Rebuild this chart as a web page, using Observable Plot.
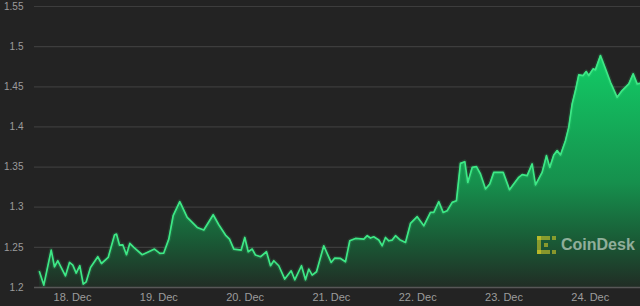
<!DOCTYPE html>
<html>
<head>
<meta charset="utf-8">
<script src="https://cdn.jsdelivr.net/npm/d3@7"></script>
<script src="https://cdn.jsdelivr.net/npm/@observablehq/plot@0.6"></script>
<style>
html, body { margin: 0; padding: 0; background: #232323; }
#wrap { position: relative; width: 640px; height: 306px; overflow: hidden; }
#logo { position: absolute; left: 537px; top: 236px; display: flex; align-items: center; pointer-events: none; }
#logo span { font-family: "Liberation Sans", Arial, sans-serif; font-weight: bold; font-size: 16px; color: rgba(225,235,225,0.6); margin-left: 4px; letter-spacing: 0px; }
</style>
</head>
<body>
<div id="wrap"></div>
<script>
const times = [
  "2024-12-17T14:49Z","2024-12-17T16:01Z","2024-12-17T18:05Z","2024-12-17T18:59Z","2024-12-17T19:55Z",
  "2024-12-17T22:03Z","2024-12-17T23:10Z","2024-12-18T00:05Z","2024-12-18T01:02Z","2024-12-18T02:02Z",
  "2024-12-18T02:59Z","2024-12-18T03:49Z","2024-12-18T05:01Z","2024-12-18T07:02Z","2024-12-18T08:04Z",
  "2024-12-18T09:56Z","2024-12-18T11:41Z","2024-12-18T12:14Z","2024-12-18T13:04Z","2024-12-18T13:59Z",
  "2024-12-18T15:01Z","2024-12-18T15:56Z","2024-12-18T17:03Z","2024-12-18T19:23Z","2024-12-18T20:46Z",
  "2024-12-18T22:48Z","2024-12-19T00:17Z","2024-12-19T01:23Z","2024-12-19T02:47Z","2024-12-19T04:00Z",
  "2024-12-19T05:50Z","2024-12-19T07:54Z","2024-12-19T08:49Z","2024-12-19T10:41Z","2024-12-19T12:31Z",
  "2024-12-19T15:08Z","2024-12-19T16:41Z","2024-12-19T18:33Z","2024-12-19T19:40Z","2024-12-19T20:52Z",
  "2024-12-19T22:55Z","2024-12-19T23:55Z","2024-12-20T00:52Z","2024-12-20T01:59Z","2024-12-20T02:53Z",
  "2024-12-20T04:17Z","2024-12-20T05:57Z","2024-12-20T07:04Z","2024-12-20T07:59Z","2024-12-20T09:22Z",
  "2024-12-20T11:02Z","2024-12-20T12:49Z","2024-12-20T13:49Z","2024-12-20T15:41Z","2024-12-20T16:48Z",
  "2024-12-20T17:43Z","2024-12-20T18:40Z","2024-12-20T19:52Z","2024-12-20T21:53Z","2024-12-20T23:56Z",
  "2024-12-21T00:57Z","2024-12-21T02:32Z","2024-12-21T03:55Z","2024-12-21T05:07Z","2024-12-21T06:42Z",
  "2024-12-21T09:01Z","2024-12-21T09:58Z","2024-12-21T10:52Z","2024-12-21T11:47Z","2024-12-21T13:11Z",
  "2024-12-21T14:08Z","2024-12-21T15:03Z","2024-12-21T15:58Z","2024-12-21T16:55Z","2024-12-21T17:50Z",
  "2024-12-21T19:01Z","2024-12-21T20:37Z","2024-12-21T22:00Z","2024-12-21T23:52Z","2024-12-22T01:42Z",
  "2024-12-22T03:34Z","2024-12-22T04:29Z","2024-12-22T05:52Z","2024-12-22T07:05Z","2024-12-22T08:12Z",
  "2024-12-22T09:36Z","2024-12-22T10:47Z","2024-12-22T11:54Z","2024-12-22T13:06Z","2024-12-22T13:56Z",
  "2024-12-22T15:10Z","2024-12-22T16:21Z","2024-12-22T17:28Z","2024-12-22T18:52Z","2024-12-22T20:03Z",
  "2024-12-22T21:10Z","2024-12-22T22:33Z","2024-12-22T23:47Z","2024-12-23T01:32Z","2024-12-23T04:07Z",
  "2024-12-23T05:04Z","2024-12-23T06:27Z","2024-12-23T07:50Z","2024-12-23T08:46Z","2024-12-23T10:37Z",
  "2024-12-23T11:49Z","2024-12-23T12:44Z","2024-12-23T13:51Z","2024-12-23T14:48Z","2024-12-23T15:43Z",
  "2024-12-23T17:06Z","2024-12-23T18:01Z","2024-12-23T18:58Z","2024-12-23T19:53Z","2024-12-23T20:48Z",
  "2024-12-23T22:01Z","2024-12-23T22:52Z","2024-12-23T23:35Z","2024-12-24T00:48Z","2024-12-24T01:26Z",
  "2024-12-24T02:50Z","2024-12-24T04:14Z","2024-12-24T05:37Z","2024-12-24T07:29Z","2024-12-24T08:52Z",
  "2024-12-24T10:43Z","2024-12-24T11:56Z","2024-12-24T13:02Z","2024-12-24T13:58Z"
];
const prices = [
  1.2196,1.2030,1.2466,1.2258,1.2333,
  1.2146,1.2312,1.2279,1.2180,1.2271,
  1.2042,1.2071,1.2249,1.2383,1.2299,
  1.2374,1.2653,1.2666,1.2529,1.2532,
  1.2408,1.2549,1.2499,1.2408,1.2436,
  1.2479,1.2424,1.2429,1.2603,1.2894,
  1.3069,1.2873,1.2832,1.2748,1.2716,
  1.2906,1.2782,1.2653,1.2603,1.2479,
  1.2466,1.2623,1.2445,1.2479,1.2404,
  1.2383,1.2445,1.2271,1.2333,1.2271,
  1.2105,1.2208,1.2096,1.2271,1.2096,
  1.2229,1.2155,1.2196,1.2520,1.2312,
  1.2367,1.2362,1.2320,1.2582,1.2611,
  1.2603,1.2645,1.2616,1.2632,1.2591,
  1.2520,1.2623,1.2582,1.2591,1.2645,
  1.2595,1.2561,1.2798,1.2882,1.2769,
  1.2935,1.2935,1.3069,1.2935,1.2956,
  1.3060,1.3081,1.3546,1.3567,1.3309,
  1.3496,1.3505,1.3414,1.3227,1.3289,
  1.3434,1.3434,1.3434,1.3218,1.3372,
  1.3405,1.3393,1.3539,1.3277,1.3434,
  1.3642,1.3496,1.3651,1.3705,1.3651,
  1.3829,1.3995,1.4287,1.4453,1.4648,
  1.4640,1.4690,1.4640,1.4723,1.4711,
  1.4889,1.4723,1.4556,1.4369,1.4453,
  1.4536,1.4661,1.4536,1.4544
];
const yTicks = [1.2, 1.25, 1.3, 1.35, 1.4, 1.45, 1.5, 1.55];
const xTicks = ["2024-12-18","2024-12-19","2024-12-20","2024-12-21","2024-12-22","2024-12-23","2024-12-24"];
const xDomain = ["2024-12-17T13:26Z", "2024-12-24T13:58Z"];

const data = times.map((t, i) => ({date: new Date(t), price: prices[i]}));
const tickDates = xTicks.map(d => new Date(d + "T00:00Z"));
const baseValue = yTicks[0];

const plot = Plot.plot({
  width: 640,
  height: 306,
  marginLeft: 34,
  marginRight: 0,
  marginTop: 6,
  marginBottom: 19,
  style: {background: "#232323", color: "#999", fontFamily: "'Liberation Sans', Arial, sans-serif", fontSize: "10px", overflow: "visible"},
  x: {type: "utc", domain: xDomain.map(d => new Date(d)), label: null},
  y: {domain: [yTicks[0], yTicks[yTicks.length - 1]], label: null},
  marks: [
    Plot.ruleY(yTicks.slice(1), {stroke: "#3d3d3d", strokeWidth: 1.2}),
    Plot.areaY(data, {x: "date", y1: baseValue, y2: "price", fill: "url(#cdGrad)", curve: "linear"}),
    Plot.lineY(data, {x: "date", y: "price", stroke: "#3be584", strokeWidth: 4.5, strokeOpacity: 0.13}),
    Plot.lineY(data, {x: "date", y: "price", stroke: "#3ee886", strokeWidth: 1.7}),
    Plot.ruleY([baseValue], {stroke: "#575757", strokeWidth: 1.3}),
    Plot.axisY(yTicks, {tickSize: 0, tickPadding: 11, tickFormat: d => String(+d.toFixed(2)), fill: "#9c9c9c", label: null}),
    Plot.axisX(tickDates, {tickSize: 0, tickPadding: 6, tickFormat: d3.utcFormat("%-d. %b"), fill: "#9c9c9c", fontSize: 11, label: null})
  ]
});

// gradient for the area (styling only), placed from the y scale
const ys = plot.scale("y");
const yTop = ys.apply(d3.max(prices));
const yBot = ys.apply(baseValue);
const defs = document.createElementNS("http://www.w3.org/2000/svg", "defs");
defs.innerHTML = `<linearGradient id="cdGrad" gradientUnits="userSpaceOnUse" x1="0" y1="${yTop}" x2="0" y2="${yBot}">
  <stop offset="0" stop-color="#12cc66"/>
  <stop offset="0.55" stop-color="#16904d"/>
  <stop offset="0.82" stop-color="#1a5634"/>
  <stop offset="1" stop-color="#212d25"/>
</linearGradient>`;
plot.insertBefore(defs, plot.firstChild);

const wrap = document.getElementById("wrap");
wrap.appendChild(plot);

const logo = document.createElement("div");
logo.id = "logo";
logo.innerHTML = `<svg width="20" height="18" viewBox="0 0 20 18">
  <g fill="rgba(225,210,40,0.55)">
    <rect x="0" y="0" width="4" height="18"/>
    <rect x="0" y="0" width="13" height="4"/>
    <rect x="0" y="14" width="13" height="4"/>
    <rect x="15" y="0" width="4" height="4"/>
    <rect x="15" y="14" width="4" height="4"/>
    <rect x="7" y="7" width="4" height="4"/>
  </g>
</svg><span>CoinDesk</span>`;
wrap.appendChild(logo);
</script>
</body>
</html>
